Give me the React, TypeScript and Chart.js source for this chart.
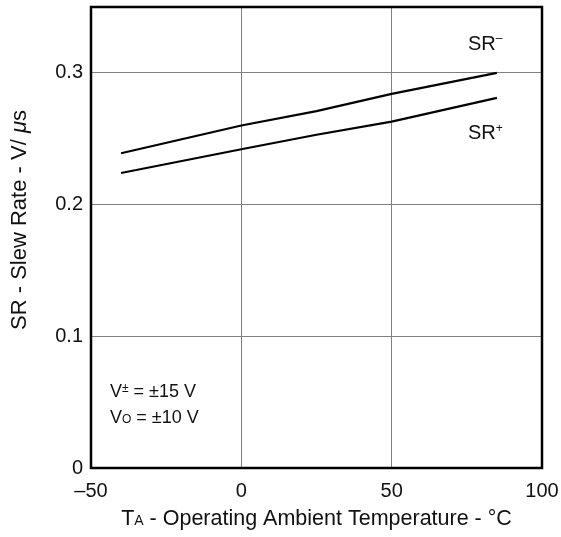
import React, { useEffect, useRef } from "react";
import { Chart, registerables } from "chart.js";

Chart.register(...registerables);

const temperatures = [-40, 0, 25, 50, 85];
const srMinus = [0.239, 0.26, 0.271, 0.284, 0.3];
const srPlus = [0.224, 0.242, 0.253, 0.263, 0.281];
const xTickValues = [-50, 0, 50, 100];
const xTickLabels = ["\u201350", "0", "50", "100"];
const yTickValues = [0, 0.1, 0.2, 0.3];
const yTickLabels = ["0", "0.1", "0.2", "0.3"];

const FONT = "'Liberation Sans', Arial, sans-serif";

type Seg = { t: string; size: number; dy?: number; italic?: boolean };

function fontOf(s: Seg) {
  return `${s.italic ? "italic " : ""}${s.size}px ${FONT}`;
}

function drawRich(ctx: CanvasRenderingContext2D, segs: Seg[], x: number, y: number, align: "left" | "center") {
  let total = 0;
  const widths = segs.map((s) => {
    ctx.font = fontOf(s);
    const w = ctx.measureText(s.t).width;
    total += w;
    return w;
  });
  let cx = align === "center" ? x - total / 2 : x;
  ctx.textAlign = "left";
  ctx.textBaseline = "alphabetic";
  segs.forEach((s, i) => {
    ctx.font = fontOf(s);
    ctx.fillText(s.t, cx, y + (s.dy || 0));
    cx += widths[i];
  });
}

const annotPlugin = {
  id: "annot",
  afterDraw(chart: any) {
    const ctx = chart.ctx as CanvasRenderingContext2D;
    const a = chart.chartArea;
    ctx.save();
    ctx.strokeStyle = "#000";
    ctx.lineWidth = 2.5;
    ctx.strokeRect(a.left, a.top, a.right - a.left, a.bottom - a.top);
    ctx.fillStyle = "#111";
    drawRich(
      ctx,
      [
        { t: "T", size: 21.5 },
        { t: "A", size: 14 },
        { t: " - Operating Ambient Temperature - \u00B0C", size: 21.5 },
      ],
      (a.left + a.right) / 2,
      525,
      "center"
    );
    ctx.save();
    ctx.translate(26, 220);
    ctx.rotate(-Math.PI / 2);
    drawRich(
      ctx,
      [
        { t: "SR - Slew Rate - V/ ", size: 22 },
        { t: "\u03BC", size: 22, italic: true },
        { t: "s", size: 22 },
      ],
      0,
      0,
      "center"
    );
    ctx.restore();
    drawRich(ctx, [{ t: "SR", size: 20 }, { t: "\u2013", size: 12, dy: -8 }], 468, 50, "left");
    drawRich(ctx, [{ t: "SR", size: 20 }, { t: "+", size: 12, dy: -7 }], 468, 139, "left");
    drawRich(ctx, [{ t: "V", size: 18 }, { t: "\u00B1", size: 12, dy: -5 }, { t: " = \u00B115 V", size: 18 }], 110, 397, "left");
    drawRich(ctx, [{ t: "V", size: 18 }, { t: "O", size: 12 }, { t: " = \u00B110 V", size: 18 }], 110, 423, "left");
    ctx.restore();
  },
};

function zeroPad(s: any) {
  s.paddingLeft = 0;
  s.paddingRight = 0;
  s.paddingTop = 0;
  s.paddingBottom = 0;
}

export default function App() {
  const ref = useRef<HTMLCanvasElement>(null);
  useEffect(() => {
    const canvas = ref.current!;
    const chart = new Chart(canvas, {
      type: "line",
      data: {
        datasets: [
          {
            label: "SR-",
            data: temperatures.map((t, i) => ({ x: t, y: srMinus[i] })),
            borderColor: "#000",
            borderWidth: 2.2,
            pointRadius: 0,
            tension: 0,
          },
          {
            label: "SR+",
            data: temperatures.map((t, i) => ({ x: t, y: srPlus[i] })),
            borderColor: "#000",
            borderWidth: 2.2,
            pointRadius: 0,
            tension: 0,
          },
        ],
      },
      options: {
        animation: false,
        responsive: false,
        layout: { padding: { top: 7, right: 19, left: 0, bottom: 0 } },
        plugins: { legend: { display: false }, tooltip: { enabled: false } },
        scales: {
          x: {
            type: "linear",
            min: -50,
            max: 100,
            afterBuildTicks: (s: any) => {
              s.ticks = xTickValues.map((v) => ({ value: v }));
            },
            afterFit: (s: any) => {
              s.height = 69;
              zeroPad(s);
            },
            ticks: {
              callback: (v: any) => {
                const i = xTickValues.indexOf(Number(v));
                return i >= 0 ? xTickLabels[i] : "";
              },
              color: "#111",
              font: { family: FONT, size: 20 },
              padding: 11,
              maxRotation: 0,
              autoSkip: false,
            },
            grid: { color: "#808080", lineWidth: 1, drawTicks: false },
            border: { display: false },
          },
          y: {
            type: "linear",
            min: 0,
            max: 0.35,
            afterBuildTicks: (s: any) => {
              s.ticks = yTickValues.map((v) => ({ value: v }));
            },
            afterFit: (s: any) => {
              s.width = 91;
              zeroPad(s);
            },
            ticks: {
              callback: (v: any) => {
                const i = yTickValues.findIndex((t) => Math.abs(t - Number(v)) < 1e-9);
                return i >= 0 ? yTickLabels[i] : "";
              },
              color: "#111",
              font: { family: FONT, size: 20 },
              padding: 8,
              autoSkip: false,
            },
            grid: { color: "#808080", lineWidth: 1, drawTicks: false },
            border: { display: false },
          },
        },
      },
      plugins: [annotPlugin],
    });
    return () => chart.destroy();
  }, []);
  return (
    <div style={{ position: "fixed", left: 0, top: 0, width: 561, height: 537, background: "#fff" }}>
      <canvas ref={ref} width={561} height={537} style={{ width: 561, height: 537, display: "block" }} />
    </div>
  );
}
